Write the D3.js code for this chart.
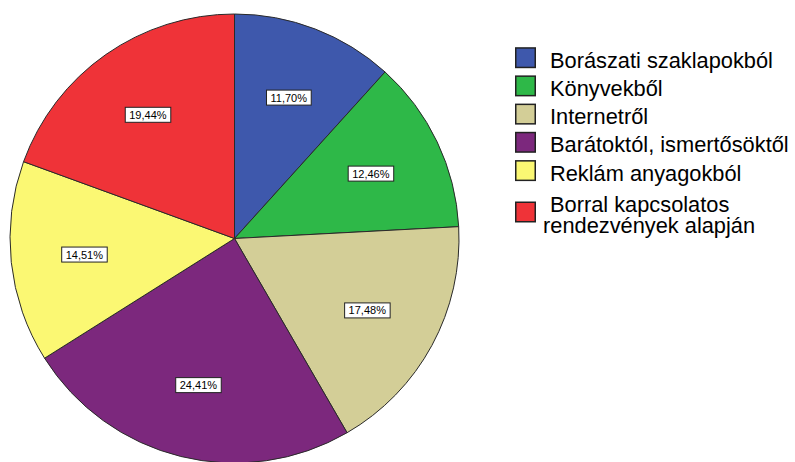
<!DOCTYPE html>
<html>
<head>
<meta charset="utf-8">
<script src="https://cdn.jsdelivr.net/npm/d3@7"></script>
<style>
  html, body { margin: 0; padding: 0; background: #fff; }
  svg { display: block; }
</style>
</head>
<body>
<svg id="chart" width="795" height="462"></svg>
<script>
const categories = [
  "Borászati szaklapokból",
  "Könyvekből",
  "Internetről",
  "Barátoktól, ismertősöktől",
  "Reklám anyagokból",
  "Borral kapcsolatos rendezvények alapján"
];
const legendLines = [
  ["Borászati szaklapokból"],
  ["Könyvekből"],
  ["Internetről"],
  ["Barátoktól, ismertősöktől"],
  ["Reklám anyagokból"],
  ["Borral kapcsolatos", "rendezvények alapján"]
];
const values = [11.70, 12.46, 17.48, 24.41, 14.51, 19.44];
const colors = ["#3E58AC", "#2EB848", "#D3CE97", "#7C287D", "#FBF873", "#EF3338"];

const svg = d3.select("#chart");
const cx = 234.5, cy = 238.5, R = 224.5;
const font = "'Liberation Sans', Arial, sans-serif";

const pie = d3.pie().sort(null).value(d => d)(values);
const arc = d3.arc().innerRadius(0).outerRadius(R);
const labelArc = d3.arc().innerRadius(151).outerRadius(151);

const g = svg.append("g").attr("transform", `translate(${cx},${cy})`);
g.selectAll("path.slice").data(pie).join("path")
  .attr("class", "slice")
  .attr("d", arc)
  .attr("fill", (d, i) => colors[i])
  .attr("stroke", "#2a2a2a")
  .attr("stroke-width", 1)
  .attr("stroke-linejoin", "round");

const fmt = v => v.toFixed(2).replace(".", ",") + "%";
const lab = g.selectAll("g.lab").data(pie).join("g")
  .attr("class", "lab")
  .attr("transform", d => `translate(${labelArc.centroid(d)})`);
lab.each(function(d) {
  const sel = d3.select(this);
  const t = sel.append("text")
    .attr("text-anchor", "middle")
    .attr("dominant-baseline", "central")
    .attr("font-family", font)
    .attr("font-size", 11)
    .attr("fill", "#000")
    .text(fmt(d.data));
  const bb = t.node().getBBox();
  sel.insert("rect", "text")
    .attr("x", bb.x - 4)
    .attr("y", -7.5)
    .attr("width", bb.width + 8)
    .attr("height", 15)
    .attr("fill", "#fff")
    .attr("stroke", "#222")
    .attr("stroke-width", 1);
});

// Legend
const legX = 515, sw = 21, sh = 21, fs = 21.8, lineH = 21;
const rowY = d3.scaleOrdinal().domain(d3.range(6)).range([67.7, 95.9, 124.1, 152.3, 180.6, 211.5]);
const leg = svg.append("g");
legendLines.forEach((lines, i) => {
  const base = rowY(i);
  const nLines = lines.length;
  const textMid = base - 10 + (nLines - 1) * lineH / 2;
  leg.append("rect")
    .attr("x", legX + 0.75)
    .attr("y", textMid - sh / 2 + 0.75)
    .attr("width", sw - 1.5)
    .attr("height", sh - 1.5)
    .attr("fill", colors[i])
    .attr("stroke", "#222")
    .attr("stroke-width", 1.5);
  lines.forEach((ln, j) => {
    leg.append("text")
      .attr("x", j === 0 ? 550 : 543)
      .attr("y", base + j * lineH)
      .attr("font-family", font)
      .attr("font-size", fs)
      .attr("fill", "#000")
      .text(ln);
  });
});
</script>
</body>
</html>
